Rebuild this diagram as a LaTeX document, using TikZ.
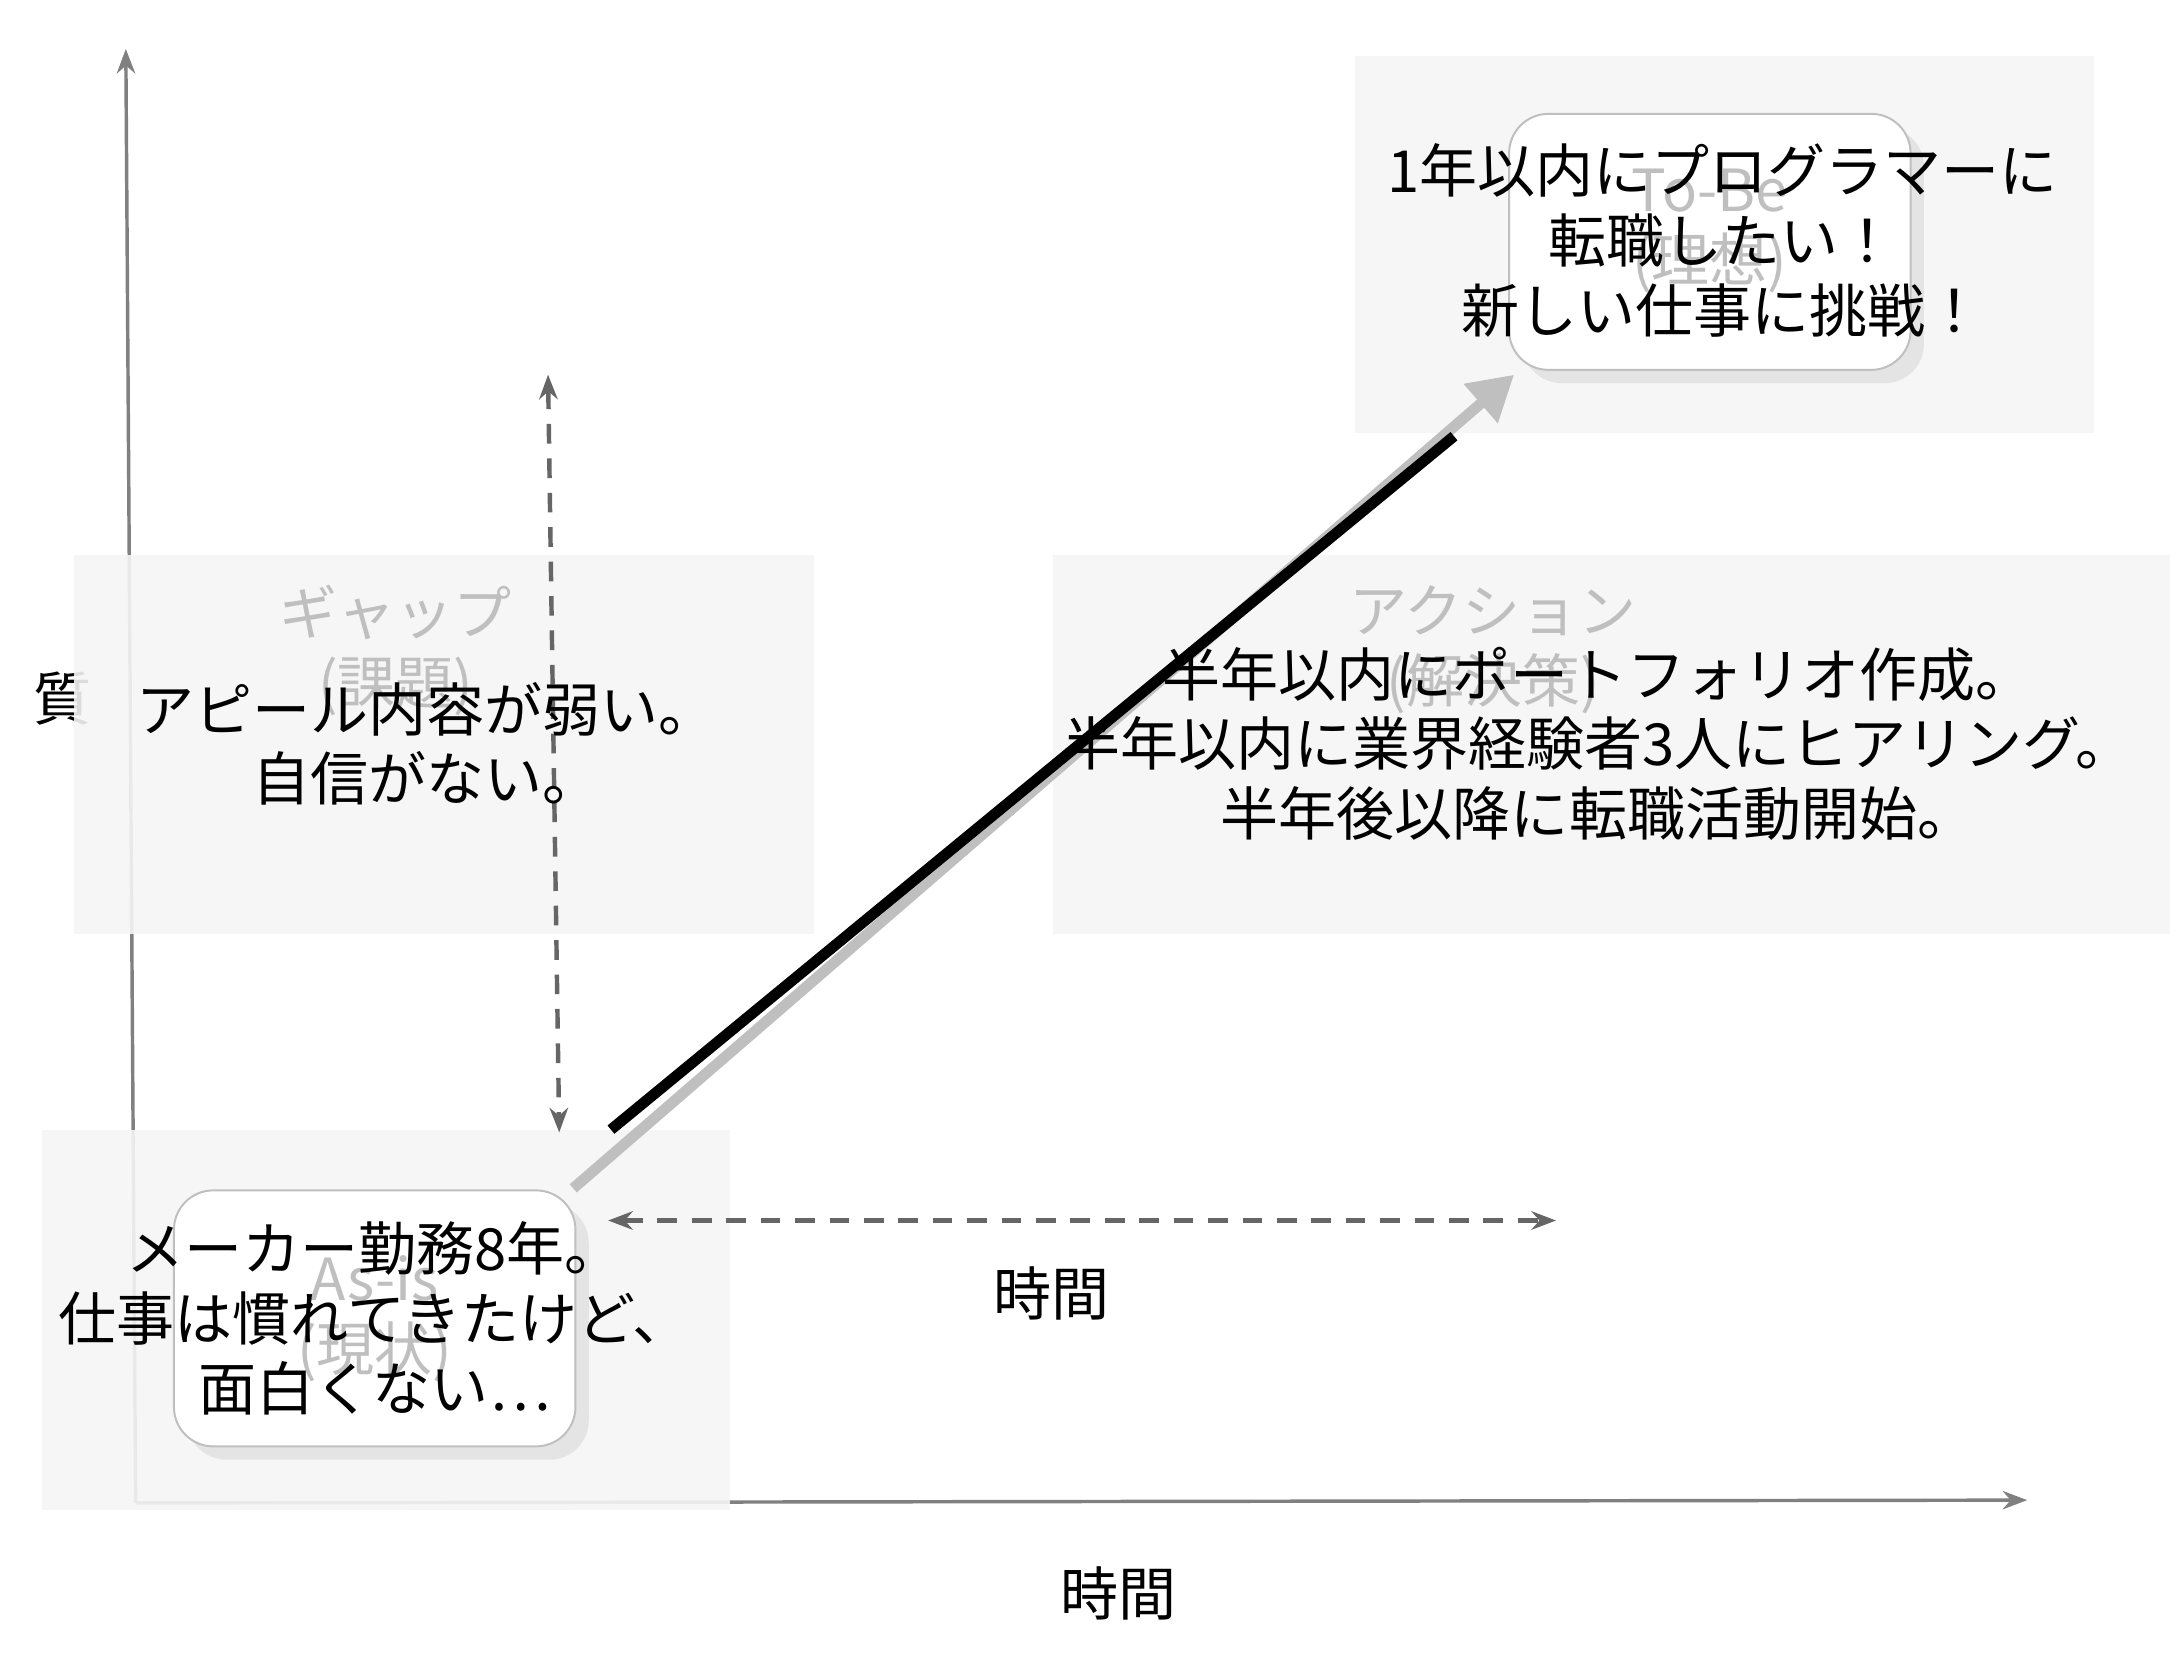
\documentclass[tikz,border=0pt]{standalone}
\usepackage{fontspec}
\setmainfont{Noto Sans CJK JP}
\usetikzlibrary{arrows.meta,shadows}
\definecolor{panelgrey}{RGB}{245,245,245}
\colorlet{axisgrey}{black!50}
\colorlet{titlegrey}{black!25}
\tikzset{
    every node/.style={font=\fontsize{11.8}{14.2}\selectfont,align=center},
    panel/.style={fill=panelgrey,draw=none,fill opacity=0.9},
    card/.style={fill=white,draw=black!25,rounded corners=8pt,drop shadow={opacity=0.15},minimum width=2.87cm,minimum height=1.83cm},
    axis/.style={draw=axisgrey,line width=0.7pt,-{Stealth[length=5pt]}},
    gap/.style={draw=black!60,dash pattern=on 4pt off 3pt,line width=0.9pt,{Stealth[length=5pt]}-{Stealth[length=5pt]}},
    ttl/.style={text=titlegrey},
}
\begin{document}
\begin{tikzpicture}[x=0.01cm,y=-0.01cm]
\useasboundingbox (0,0) rectangle (1560,1186);

% axes
\coordinate (o) at (97,1075);
\coordinate (ytop) at (90,35);
\coordinate (xend) at (1450,1073);
\draw [axis] (o) -- (ytop);
\draw [axis] (o) -- (xend);
\node (ylab) at (45,500) {質};
\node (xlab) at (800,1140) {時間};

% panels
\fill [panel] (53,397) rectangle (582,668);
\fill [panel] (753,397) rectangle (1552,668);
\fill [panel] (969,40) rectangle (1498,310);
\fill [panel] (30,808) rectangle (522,1080);

% cards
\node [card] (asis) at (268,943) {};
\node [card] (tobe) at (1223,173) {};

% titles
\node [ttl] (gapttl) at (283,465) {ギャップ\\(課題)};
\node [ttl] (actttl) at (1068,465) {アクション\\(解決策)};
\node [ttl] (asisttl) at (268,943) {As-is\\(現状)};
\node [ttl] (tobettl) at (1223,165) {To-Be\\(理想)};

% arrows
\coordinate (gtop) at (392,268);
\coordinate (gbot) at (400,810);
\draw [gap] (gtop) -- (gbot);
\coordinate (tl) at (435,873);
\coordinate (tr) at (1113,873);
\draw [gap] (tl) -- (tr);
\node (tlab) at (752,925) {時間};

\coordinate (ms) at (410,850);
\coordinate (me) at (1083,268);
\coordinate (bs) at (437,808);
\coordinate (be) at (1040,312);
\draw [black!25,line width=2.2pt,-{Triangle[length=9pt,width=10pt]}] (ms) -- (me);
\draw [black,line width=2.2pt] (bs) -- (be);

% texts
\node (gaptxt) at (305,532) {アピール内容が弱い。\\自信がない。};
\node (acttxt) at (1143,532) {半年以内にポートフォリオ作成。\\半年以内に業界経験者3人にヒアリング。\\半年後以降に転職活動開始。};
\node (asistxt) at (268,943) {メーカー勤務8年。\\仕事は慣れてきたけど、\\面白くない…};
\node (tobetxt) at (1232,172) {1年以内にプログラマーに\\転職したい！\\新しい仕事に挑戦！};
\end{tikzpicture}
\end{document}
